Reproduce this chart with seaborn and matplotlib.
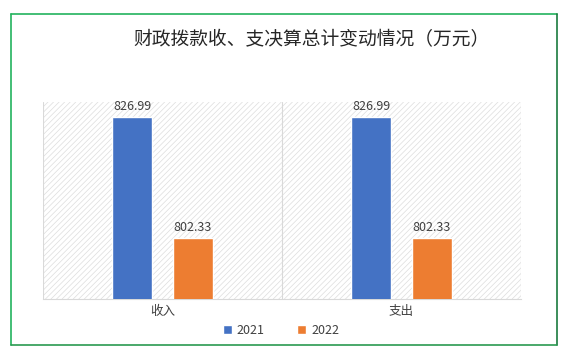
import matplotlib
matplotlib.use("Agg")
import matplotlib.pyplot as plt
import seaborn as sns
import pandas as pd
from matplotlib.patches import Rectangle
from matplotlib.lines import Line2D

categories = ["收入", "支出"]
years = ["2021", "2022"]
values_2021 = [826.99, 826.99]
values_2022 = [802.33, 802.33]
title = "财政拨款收、支决算总计变动情况（万元）"
colors = ["#4472C4", "#ED7D31"]

df = pd.DataFrame({
    "category": categories * 2,
    "year": [years[0]] * len(categories) + [years[1]] * len(categories),
    "value": values_2021 + values_2022,
})

sns.set_theme(style="white")
plt.rcParams["font.family"] = ["Noto Sans CJK SC", "DejaVu Sans"]
plt.rcParams["hatch.linewidth"] = 0.5

fig = plt.figure(figsize=(5.72, 3.60), dpi=100)
ax = fig.add_axes([43/572, 1-299/360, (521-43)/572, (299-102)/360])

sns.barplot(data=df, x="category", y="value", hue="year", palette=colors,
            width=0.508, gap=0.34, ax=ax, saturation=1, legend=True, zorder=3)

ax.set_ylim(790, 830)
ax.set_xlim(-0.5, 1.5)
ax.set_xlabel("")
ax.set_ylabel("")
ax.set_yticks([])
ax.add_patch(Rectangle((0, 0), 1, 1, transform=ax.transAxes, facecolor="white",
                       edgecolor="#DDDDDD", hatch="//////", linewidth=0, zorder=0))
for s in ["left", "right", "top"]:
    ax.spines[s].set_visible(False)
ax.spines["bottom"].set_color("#D9D9D9")
ax.spines["bottom"].set_linewidth(0.8)
for xv in [-0.5, 0.5, 1.5]:
    ax.axvline(xv, color="#D9D9D9", lw=0.8, zorder=0.5)

for cont in ax.containers:
    ax.bar_label(cont, fmt="%.2f", padding=3, fontsize=9, color="#404040")

ax.tick_params(axis="x", length=0, pad=4, labelsize=9, labelcolor="#404040")

leg = ax.legend(loc="center", bbox_to_anchor=(281/572, 1-330/360),
                bbox_transform=fig.transFigure, ncol=2, frameon=False,
                fontsize=9, handlelength=0.7, handleheight=0.7,
                columnspacing=2.6, handletextpad=0.4)
for t in leg.get_texts():
    t.set_color("#404040")

fig.text(311/572, 1-40/360, title, ha="center", va="center", fontsize=13.5,
         color="#262626")

# border
x0, x1 = 11/572, 557/572
y0, y1 = 1-345/360, 1-14/360
fig.add_artist(Line2D([x0, x1], [y1, y1], color="#22B35E", lw=1.2, transform=fig.transFigure))
fig.add_artist(Line2D([x0, x0], [y0, y1], color="#22B35E", lw=1.2, transform=fig.transFigure))
fig.add_artist(Line2D([x1, x1], [y0, y1], color="#1A7A3E", lw=1.2, transform=fig.transFigure))
fig.add_artist(Line2D([x0, x1], [y0, y0], color="#2A9A50", lw=1.2, transform=fig.transFigure))

fig.savefig("out.png", dpi=100)
